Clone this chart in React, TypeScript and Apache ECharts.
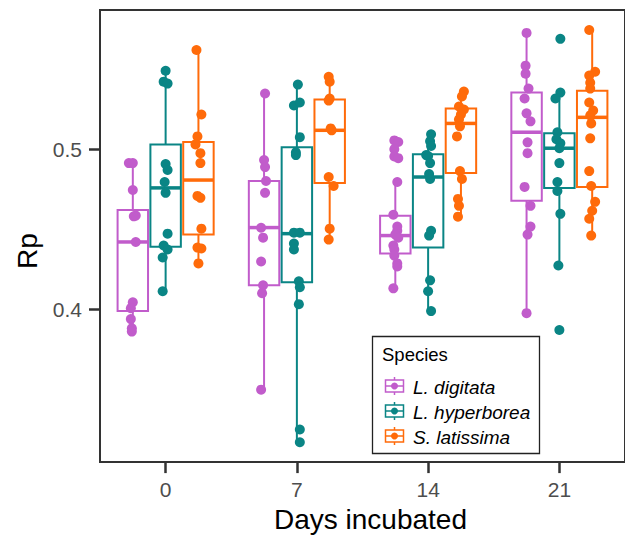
import React, { useEffect, useRef } from "react";
import * as echarts from "echarts";

const days = ["0", "7", "14", "21"];
const species = ["L. digitata", "L. hyperborea", "S. latissima"];
const colors = ["#C15CCB", "#0A8585", "#FF6B0A"];

// box statistics per day: [lower whisker, Q1, median, Q3, upper whisker]
const boxDigitata = [
  [0.386, 0.3988, 0.442, 0.462, 0.4913],
  [0.3497, 0.4149, 0.451, 0.4801, 0.5348],
  [0.413, 0.4348, 0.446, 0.4584, 0.4795],
  [0.3975, 0.4677, 0.5106, 0.5354, 0.5727],
];
const boxHyperborea = [
  [0.4112, 0.439, 0.4758, 0.503, 0.549],
  [0.3168, 0.4168, 0.4472, 0.5012, 0.5404],
  [0.3988, 0.4385, 0.4826, 0.4969, 0.5093],
  [0.4273, 0.4758, 0.5006, 0.5099, 0.5354],
];
const boxLatissima = [
  [0.4286, 0.4466, 0.4807, 0.5045, 0.562],
  [0.4435, 0.4789, 0.5118, 0.531, 0.5453],
  [0.4578, 0.4851, 0.5161, 0.5255, 0.536],
  [0.446, 0.4764, 0.5199, 0.5366, 0.5745],
];

// observations per day: [Rp, horizontal jitter]
const ptsDigitata = [
  [[0.4913, -4], [0.4913, 0], [0.4745, 0], [0.458, 1], [0.4585, 3], [0.442, 3], [0.4043, 0], [0.4006, -2], [0.3938, -2], [0.388, -1], [0.386, -1]],
  [[0.5348, 1], [0.4932, 0], [0.4888, 1], [0.4801, 2], [0.4727, 1], [0.4509, -3], [0.4447, -1], [0.4298, -3], [0.4149, -1], [0.41, -2], [0.3497, -3]],
  [[0.5055, -1], [0.5045, 3], [0.5, -1], [0.4955, -1], [0.4944, 3], [0.4795, 2], [0.459, -2], [0.4516, 2], [0.449, 2], [0.4466, 0], [0.4447, 3], [0.4398, -2], [0.4373, -1], [0.4335, -1], [0.4286, 2], [0.4267, 2], [0.413, -2]],
  [[0.5727, 0], [0.5522, -1], [0.5472, -1], [0.5379, 2], [0.5317, -2], [0.5224, 0], [0.5174, 4], [0.5043, 1], [0.4975, 1], [0.4764, -2], [0.4646, 4], [0.4516, 4], [0.4466, 1], [0.3975, 0]],
];
const ptsHyperborea = [
  [[0.549, 0], [0.5422, -2], [0.541, 2], [0.4907, 0], [0.487, 2], [0.4795, -1], [0.4727, 0], [0.4472, 2], [0.4398, -2], [0.4373, 2], [0.4323, -3], [0.4112, -3]],
  [[0.5404, 1], [0.5273, -3], [0.5292, 3], [0.5075, 3], [0.498, -1], [0.4963, -1], [0.4478, -3], [0.4478, 3], [0.441, -3], [0.4373, -3], [0.4174, 2], [0.4137, 3], [0.4031, 2], [0.3248, 3], [0.3168, 3]],
  [[0.5093, 3], [0.505, 2], [0.502, 3], [0.4963, -2], [0.4957, 0], [0.4913, 2], [0.4845, 1], [0.4814, 2], [0.449, 3], [0.446, 1], [0.418, 2], [0.4112, 0], [0.3988, 3]],
  [[0.569, 1], [0.5354, 1], [0.5317, -4], [0.5106, -2], [0.5062, -3], [0.5037, 1], [0.5006, 0], [0.4913, 0], [0.4795, -2], [0.4739, -2], [0.4596, 1], [0.4273, -1], [0.387, 0]],
];
const ptsLatissima = [
  [[0.562, -2], [0.5217, 3], [0.508, -1], [0.503, -3], [0.4975, 2], [0.4913, 2], [0.4708, -1], [0.4696, 2], [0.4503, 3], [0.4385, -1], [0.4379, 3], [0.4286, 0]],
  [[0.5453, -1], [0.5422, 0], [0.5304, -1], [0.5317, 0], [0.513, 1], [0.5118, 2], [0.4826, -1], [0.477, 4], [0.4503, 0], [0.4435, -1]],
  [[0.536, 3], [0.533, 1], [0.5267, -2], [0.5248, 3], [0.5217, 0], [0.5186, -2], [0.5143, -1], [0.508, -4], [0.4863, -1], [0.4814, 1], [0.4689, -3], [0.4646, -2], [0.4578, -3]],
  [[0.5745, -3], [0.5484, 3], [0.546, -3], [0.5416, -2], [0.5379, -2], [0.5292, -3], [0.5242, 1], [0.5211, -2], [0.5161, -1], [0.5068, -2], [0.4863, -3], [0.477, -1], [0.4671, 3], [0.4615, 0], [0.4565, -3], [0.446, -1]],
];

const yTicks = [0.4, 0.5];

const FONT = "'Liberation Sans', Arial, Helvetica, sans-serif";

export default function App() {
  const ref = useRef<HTMLDivElement>(null);

  useEffect(() => {
    if (!ref.current) return;
    const chart = echarts.init(ref.current, null, { renderer: "svg" });
    const boxes = [boxDigitata, boxHyperborea, boxLatissima];
    const pts = [ptsDigitata, ptsHyperborea, ptsLatissima];
    const dodge = [-0.25, 0, 0.25];
    const halfW = 0.116;
    const jitterUnit = 1 / 133.3;

    const boxSeries = boxes.map((b, si) => ({
      type: "custom",
      name: species[si],
      xAxisIndex: 1,
      z: 2,
      data: b.map((s, di) => [di, ...s]),
      renderItem: (params: any, api: any) => {
        const x = api.value(0) + dodge[si];
        const [cx, lowY] = api.coord([x, api.value(1)]);
        const q1Y = api.coord([x, api.value(2)])[1];
        const medY = api.coord([x, api.value(3)])[1];
        const q3Y = api.coord([x, api.value(4)])[1];
        const highY = api.coord([x, api.value(5)])[1];
        const left = api.coord([x - halfW, api.value(3)])[0];
        const right = api.coord([x + halfW, api.value(3)])[0];
        const c = colors[si];
        return {
          type: "group",
          children: [
            { type: "line", shape: { x1: cx, y1: highY, x2: cx, y2: q3Y }, style: { stroke: c, lineWidth: 2 } },
            { type: "line", shape: { x1: cx, y1: q1Y, x2: cx, y2: lowY }, style: { stroke: c, lineWidth: 2 } },
            { type: "rect", shape: { x: left, y: q3Y, width: right - left, height: q1Y - q3Y }, style: { fill: "#fff", stroke: c, lineWidth: 2 } },
            { type: "line", shape: { x1: left, y1: medY, x2: right, y2: medY }, style: { stroke: c, lineWidth: 3.5 } },
          ],
        };
      },
    }));

    const pointSeries = pts.map((groups, si) => ({
      type: "scatter",
      name: species[si],
      xAxisIndex: 1,
      z: 3,
      symbolSize: 10,
      itemStyle: { color: colors[si], opacity: 1 },
      data: groups.flatMap((g, di) => g.map(([v, j]) => [di + dodge[si] + j * jitterUnit, v])),
    }));

    const rows = [386, 411, 436];
    const legendChildren: any[] = [
      { type: "rect", shape: { x: 372.5, y: 336.5, width: 167, height: 117 }, style: { fill: "#fff", stroke: "#222", lineWidth: 1.3 } },
      { type: "text", x: 382, y: 354, style: { text: "Species", fontSize: 18.5, fontFamily: FONT, fill: "#000", verticalAlign: "middle" } },
    ];
    species.forEach((s, i) => {
      const y = rows[i];
      const c = colors[i];
      legendChildren.push(
        { type: "line", shape: { x1: 394.5, y1: y - 9, x2: 394.5, y2: y + 9 }, style: { stroke: c, lineWidth: 1.5 } },
        { type: "rect", shape: { x: 385.5, y: y - 6, width: 18, height: 12 }, style: { fill: "#fff", stroke: c, lineWidth: 1.5 } },
        { type: "line", shape: { x1: 385.5, y1: y, x2: 403.5, y2: y }, style: { stroke: c, lineWidth: 1.5 } },
        { type: "circle", shape: { cx: 394.5, cy: y, r: 3.5 }, style: { fill: c } },
        { type: "text", x: 413, y: y + 1, style: { text: s, fontSize: 19, fontStyle: "italic", fontFamily: FONT, fill: "#000", verticalAlign: "middle" } }
      );
    });

    chart.setOption({
      animation: false,
      backgroundColor: "#fff",
      textStyle: { fontFamily: FONT },
      grid: {
        left: 100,
        top: 10,
        width: 533,
        height: 455,
        show: true,
        borderColor: "#333",
        borderWidth: 2,
      },
      xAxis: [
        {
          type: "category",
          data: days,
          boundaryGap: true,
          name: "Days incubated",
          nameLocation: "middle",
          nameGap: 40,
          nameTextStyle: { fontSize: 28, color: "#000", fontFamily: FONT, padding: [0, 0, 0, 16] },
          axisLine: { show: false, onZero: false },
          axisTick: { show: true, alignWithLabel: true, length: 11, lineStyle: { color: "#333", width: 2.5 } },
          axisLabel: { fontSize: 21, color: "#4d4d4d", margin: 17, fontFamily: FONT },
          splitLine: { show: false },
        },
        {
          type: "value",
          min: -0.5,
          max: 3.5,
          show: false,
          axisLine: { onZero: false },
          splitLine: { show: false },
        },
      ],
      yAxis: {
        type: "value",
        min: 0.3044,
        max: 0.587,
        name: "Rp",
        nameLocation: "middle",
        nameGap: 58,
        nameRotate: 90,
        nameTextStyle: { fontSize: 28, color: "#000", fontFamily: FONT, padding: [0, 30, 0, 0] },
        axisLine: { show: false, onZero: false },
        axisTick: { show: true, length: 11, customValues: yTicks, lineStyle: { color: "#333", width: 2.5 } },
        axisLabel: {
          fontSize: 21,
          color: "#4d4d4d",
          margin: 18,
          fontFamily: FONT,
          customValues: yTicks,
          formatter: (v: number) => v.toFixed(1),
        },
        splitLine: { show: false },
      },
      series: [...boxSeries, ...pointSeries],
      graphic: [{ id: "legend", type: "group", children: legendChildren }],
    });

    return () => chart.dispose();
  }, []);

  return <div ref={ref} style={{ position: "fixed", left: 0, top: 0, width: 625, height: 538 }} />;
}
